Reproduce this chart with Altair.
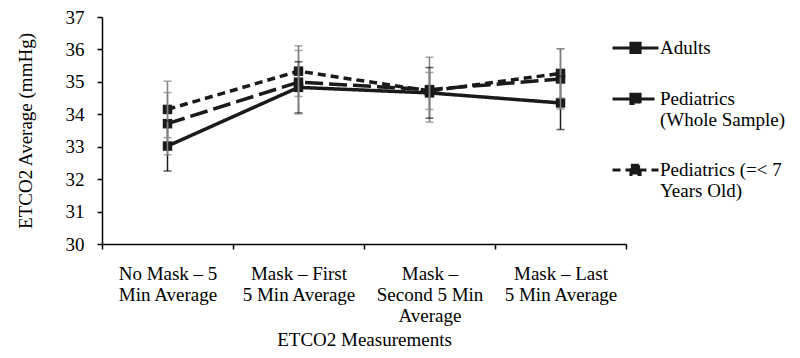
import altair as alt
import pandas as pd

# ---- data ----
categories = [
    "No Mask – 5\nMin Average",
    "Mask – First\n5 Min Average",
    "Mask –\nSecond 5 Min\nAverage",
    "Mask – Last\n5 Min Average",
]
series = ["Adults", "Pediatrics\n(Whole Sample)", "Pediatrics (=< 7\nYears Old)"]
bar_groups = ["adult bars", "pediatric bars", "pediatric bars"]

adults = [33.02, 34.83, 34.66, 34.35]
peds_whole = [33.71, 34.99, 34.76, 35.09]
peds_young = [34.15, 35.33, 34.72, 35.26]

adults_err = [0.77, 0.79, 0.78, 0.82]
peds_whole_err = [0.96, 0.98, 1.00, 0.93]
peds_young_err = [0.87, 0.78, 0.57, 0.76]

y_ticks = [30, 31, 32, 33, 34, 35, 36, 37]

rows = []
for s, g, vals, errs in zip(series, bar_groups, [adults, peds_whole, peds_young],
                            [adults_err, peds_whole_err, peds_young_err]):
    for c, v, e in zip(categories, vals, errs):
        rows.append({"measurement": c, "series": s, "bar_group": g, "value": v,
                     "lower": round(v - e, 3), "upper": round(v + e, 3)})
df = pd.DataFrame(rows)

FONT = "Liberation Serif"
FS = 19
BLACK = "#1a1a1a"
YTITLE = "ETCO2 Average (mmHg)"

x_enc = alt.X(
    "measurement:N", sort=categories,
    scale=alt.Scale(paddingInner=0, paddingOuter=0),
    axis=alt.Axis(title="ETCO2 Measurements", labelAngle=0,
                  labelExpr="split(datum.label, '\\n')",
                  tickBand="extent", labelPadding=15, labelLineHeight=21,
                  titlePadding=5, labelBaseline="top"),
)
y_scale = alt.Scale(domain=[30, 37], nice=False, zero=False)
y_axis = alt.Axis(values=y_ticks, tickCount=8, labelPadding=13,
                  titlePadding=30, title=YTITLE)

legend_symbol = "M-1,0.41H1M-0.2,0.21H0.2V0.61H-0.2Z"

lines = alt.Chart(df).mark_line(strokeWidth=3.5, color=BLACK).encode(
    x=x_enc,
    y=alt.Y("value:Q", scale=y_scale, axis=y_axis),
    strokeDash=alt.StrokeDash(
        "series:N", sort=series,
        scale=alt.Scale(domain=series, range=[[1, 0], [18, 6], [8, 5]]),
        legend=alt.Legend(
            title=None, orient="none", legendX=509, legendY=-3,
            symbolType=legend_symbol, symbolSize=46 * 46,
            symbolStrokeWidth=3, symbolFillColor=BLACK, symbolStrokeColor=BLACK,
            symbolOpacity=1,
            labelExpr="split(datum.label, '\\n')",
            labelFont=FONT, labelFontSize=FS, labelColor="black",
            labelBaseline="top", labelOffset=0, labelLimit=250,
            rowPadding=6, padding=0,
        ),
    ),
)

points = alt.Chart(df).mark_point(shape="square", filled=True, size=90,
                                  color=BLACK, opacity=1).encode(
    x=x_enc,
    y=alt.Y("value:Q", scale=y_scale, axis=y_axis),
)

err_color = alt.Color("bar_group:N",
                      scale=alt.Scale(domain=["adult bars", "pediatric bars"],
                                      range=[BLACK, "#808080"]),
                      legend=None)

err_rule = alt.Chart(df).mark_rule(strokeWidth=1.5).encode(
    x=x_enc,
    y=alt.Y("lower:Q", scale=y_scale, axis=y_axis),
    y2="upper:Q",
    color=err_color,
)
err_lo = alt.Chart(df).mark_tick(size=8, thickness=1.5).encode(
    x=x_enc,
    y=alt.Y("lower:Q", scale=y_scale, axis=y_axis),
    color=err_color,
)
err_hi = alt.Chart(df).mark_tick(size=8, thickness=1.5).encode(
    x=x_enc,
    y=alt.Y("upper:Q", scale=y_scale, axis=y_axis),
    color=err_color,
)

chart = alt.layer(lines, points, err_rule, err_lo, err_hi).properties(
    width=524, height=227,
    autosize=alt.AutoSizeParams(type="none"),
    padding={"left": 102, "top": 17, "right": 174, "bottom": 114},
    background="white",
).configure_view(stroke=None).configure_axis(
    grid=False, domainColor="black", domainWidth=1.5,
    tickColor="black", tickWidth=1.5, tickSize=5,
    labelFont=FONT, labelFontSize=FS, labelColor="black",
    titleFont=FONT, titleFontSize=FS, titleFontWeight="normal", titleColor="black",
).configure_legend(labelFont=FONT, labelFontSize=FS)

chart.save("out.html", embed_options={"renderer": "svg", "actions": False})
